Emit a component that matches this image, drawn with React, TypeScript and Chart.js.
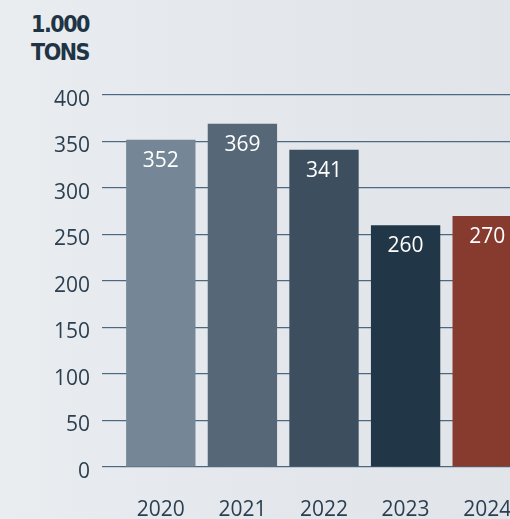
import React, { useEffect, useRef } from "react";
import { Chart, registerables } from "chart.js";

Chart.register(...registerables);

const years = ["2020", "2021", "2022", "2023", "2024"];
const tons = [352, 369, 341, 260, 270];
const barColors = ["#758796", "#566878", "#3d4f5f", "#213646", "#873a2e"];
const yTicks = [0, 50, 100, 150, 200, 250, 300, 350, 400];

const FONT = "'Open Sans', 'Noto Sans', sans-serif";

const valueLabels = {
  id: "valueLabels",
  afterDatasetsDraw(chart: any) {
    const ctx = chart.ctx;
    const meta = chart.getDatasetMeta(0);
    ctx.save();
    ctx.fillStyle = "#ffffff";
    ctx.font = "400 21px " + FONT;
    ctx.textAlign = "center";
    ctx.textBaseline = "middle";
    meta.data.forEach((bar: any, i: number) => {
      ctx.fillText(String(tons[i]), bar.x, bar.y + 21);
    });
    ctx.restore();
  },
};

export default function App() {
  const ref = useRef<HTMLCanvasElement>(null);
  useEffect(() => {
    const chart = new Chart(ref.current!, {
      type: "bar",
      data: {
        labels: years,
        datasets: [
          {
            data: tons,
            backgroundColor: barColors,
            barPercentage: 0.85,
            categoryPercentage: 1,
          },
        ],
      },
      plugins: [valueLabels],
      options: {
        animation: false,
        responsive: false,
        layout: { padding: { top: 95, bottom: 0, left: 0, right: 0 } },
        plugins: { legend: { display: false }, tooltip: { enabled: false } },
        scales: {
          x: {
            afterFit: (s: any) => {
              s.height = 52;
              s.paddingLeft = 0;
              s.paddingRight = 0;
            },
            grid: { display: false },
            border: { display: false },
            ticks: {
              color: "#2b3f50",
              padding: 22,
              font: { family: FONT, size: 21, weight: "400" as any },
            },
          },
          y: {
            min: 0,
            max: 400,
            afterFit: (s: any) => {
              s.width = 120;
            },
            afterBuildTicks: (s: any) => {
              s.ticks = yTicks.map((v) => ({ value: v }));
            },
            border: { display: false },
            grid: {
              color: "#4d6882",
              lineWidth: 1.2,
              tickLength: 18,
              drawTicks: true,
            },
            ticks: {
              color: "#2b3f50",
              padding: 12,
              labelOffset: 5,
              font: { family: FONT, size: 21, weight: "400" as any },
            },
          },
        },
      },
    });
    return () => chart.destroy();
  }, []);

  return (
    <div
      style={{
        position: "fixed",
        left: 0,
        top: 0,
        width: 510,
        height: 519,
        overflow: "hidden",
        background:
          "linear-gradient(90deg, #e9edf0 0%, #e6eaee 30%, #e3e7eb 60%, #e1e5e9 100%)",
      }}
    >
      <div
        style={{
          position: "absolute",
          right: 421,
          top: 10,
          textAlign: "right",
          fontFamily: "'DejaVu Sans Condensed', 'DejaVu Sans', sans-serif",
          fontWeight: 700,
          fontSize: 23,
          lineHeight: "28px",
          color: "#1f3445",
          letterSpacing: "-1.5px",
        }}
      >
        1.000
        <br />
        TONS
      </div>
      <canvas
        ref={ref}
        width={528}
        height={519}
        style={{ position: "absolute", left: 0, top: 0, width: 528, height: 519 }}
      />
    </div>
  );
}
